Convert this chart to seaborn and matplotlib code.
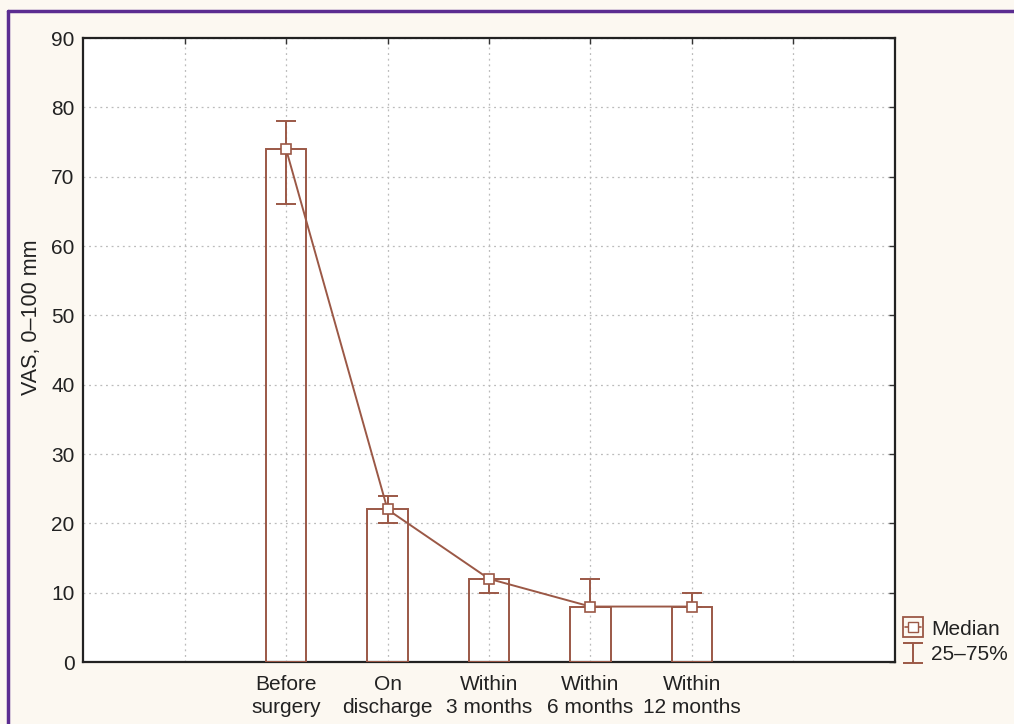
import matplotlib
matplotlib.use("Agg")
import matplotlib.pyplot as plt
from matplotlib.lines import Line2D
import numpy as np
import pandas as pd
import seaborn as sns

# data
categories = ["Before\nsurgery", "On\ndischarge", "Within\n3 months", "Within\n6 months", "Within\n12 months"]
positions = [2, 3, 4, 5, 6]
medians = [74, 22, 12, 8, 8]
q25 = [66, 20, 10, 8, 8]
q75 = [78, 24, 12, 12, 10]

BROWN = "#9b5846"
CREAM = "#fcf8f1"
PURPLE = "#5b2d91"
FS = 15

sns.set_theme(style="white")
plt.rcParams["font.family"] = ["Liberation Sans", "DejaVu Sans"]

df = pd.DataFrame({"pos": positions, "median": medians, "q25": q25, "q75": q75})

fig = plt.figure(figsize=(10.14, 7.24), dpi=100, facecolor=CREAM)
ax = fig.add_axes([0.0819, 0.0856, 0.8007, 0.8619])
ax.set_facecolor("white")

sns.barplot(data=df, x="pos", y="median", native_scale=True, width=0.4,
            fill=False, color=BROWN, linewidth=1.4, errorbar=None, ax=ax, zorder=3)
for p in ax.patches:
    p.set_edgecolor(BROWN)

sns.lineplot(data=df, x="pos", y="median", color=BROWN, linewidth=1.4, ax=ax,
             marker="s", markersize=7, markerfacecolor="white", markeredgecolor=BROWN,
             markeredgewidth=1.2, zorder=5)

err = ax.errorbar(df["pos"], df["median"],
                  yerr=[df["median"] - df["q25"], df["q75"] - df["median"]],
                  fmt="none", ecolor=BROWN, elinewidth=1.4, capsize=7, capthick=1.4,
                  zorder=4)

ax.set_xlim(0, 8)
ax.set_ylim(0, 90)
ax.set_yticks(range(0, 91, 10))
ax.set_xticks(range(1, 8))
ax.set_xticklabels([""] + categories + [""], linespacing=1.3)
ax.set_xlabel("")
ax.set_ylabel("VAS, 0\u2013100 mm", fontsize=FS + 0.5, color="#222222")
ax.yaxis.set_label_coords(-0.0505, 0.553)
ax.tick_params(axis="both", direction="in", length=4, width=1, color="#333333",
               labelsize=FS, labelcolor="#222222", top=True, right=True, pad=6)
ax.tick_params(axis="x", pad=9)
ax.grid(True, linestyle=(0, (1.5, 3)), color="#bbbbbb", linewidth=0.9)
ax.set_axisbelow(True)
for s in ax.spines.values():
    s.set_color("#222222")
    s.set_linewidth(1.6)

# legend outside on the right
median_handle = (Line2D([], [], linestyle="none", marker="s", markersize=14,
                        markerfacecolor="none", markeredgecolor=BROWN, markeredgewidth=1.3),
                 Line2D([], [], color=BROWN, linewidth=1.2, marker="s", markersize=7,
                        markerfacecolor="white", markeredgecolor=BROWN))
leg = fig.legend([median_handle, err], ["Median", "25\u201375%"],
                 loc="lower left", bbox_to_anchor=(0.884, 0.071), frameon=False,
                 fontsize=FS, handlelength=0.77, handletextpad=0.5, labelspacing=0.32,
                 borderaxespad=0)
for t in leg.get_texts():
    t.set_color("#222222")

# purple frame lines
fig.add_artist(Line2D([0.0079, 0.0079], [0, 0.985], transform=fig.transFigure,
                      color=PURPLE, linewidth=2.5))
fig.add_artist(Line2D([0.0079, 1], [0.985, 0.985], transform=fig.transFigure,
                      color=PURPLE, linewidth=2.5))

fig.savefig("out.png", dpi=100, facecolor=CREAM)
